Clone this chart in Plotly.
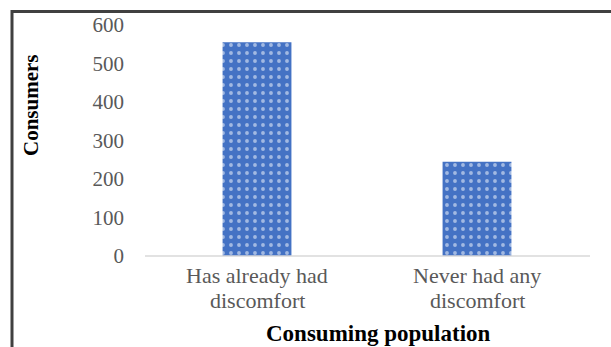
import plotly.graph_objects as go

# Survey data: consumers grouped by whether they have had discomfort
categories = ["Has already had<br>discomfort", "Never had any<br>discomfort"]
consumers = [555, 245]
y_ticks = [0, 100, 200, 300, 400, 500, 600]

W, H = 611, 347
ML, MR, MT, MB = 147, 24, 25, 91
PW = W - ML - MR
PH = H - MT - MB


def px_x(px):
    return (px - ML) / PW


def px_y(py):
    return (H - MB - py) / PH


serif = "Liberation Serif, Times New Roman, serif"
grey = "#595959"

fig = go.Figure(
    go.Bar(
        x=categories,
        y=consumers,
        width=0.313,
        marker=dict(
            color="#4472C4",
            line=dict(width=0),
            pattern=dict(shape=".", fgcolor="white", bgcolor="#4472C4",
                         size=8, solidity=0.18, fillmode="overlay"),
        ),
    )
)

# category labels, one annotation per text line for tighter line spacing
label_annotations = []
for cat in categories:
    for i, line in enumerate(cat.split("<br>")):
        label_annotations.append(
            dict(text=line, xref="x", yref="paper", x=cat,
                 y=px_y(275 + 25 * i), showarrow=False,
                 xanchor="center", yanchor="middle",
                 font=dict(family=serif, size=22, color=grey))
        )

fig.update_layout(
    width=W,
    height=H,
    margin=dict(l=ML, r=MR, t=MT, b=MB),
    paper_bgcolor="white",
    plot_bgcolor="white",
    showlegend=False,
    font=dict(family=serif, color=grey, size=21),
    xaxis=dict(
        showline=False,
        showgrid=False,
        ticks="",
        showticklabels=False,
    ),
    yaxis=dict(
        range=[0, 600],
        tickvals=y_ticks,
        showgrid=False,
        zeroline=False,
        showline=False,
        ticks="",
        tickfont=dict(family=serif, size=21, color=grey),
        ticklabelstandoff=22,
    ),
    shapes=[
        # baseline of the category axis
        dict(type="line", xref="paper", yref="paper",
             x0=px_x(145), x1=px_x(590), y0=0, y1=0,
             line=dict(color="#D9D9D9", width=1.5)),
        # outer frame
        dict(type="rect", xref="paper", yref="paper",
             x0=px_x(12), x1=px_x(700), y0=px_y(420), y1=px_y(11.5),
             line=dict(color="#404040", width=3), fillcolor="rgba(0,0,0,0)"),
    ],
    annotations=label_annotations + [
        dict(text="<b>Consumers</b>", xref="paper", yref="paper",
             x=px_x(31), y=px_y(105), textangle=-90, showarrow=False,
             font=dict(family=serif, size=21, color="black"),
             xanchor="center", yanchor="middle"),
        dict(text="<b>Consuming population</b>", xref="paper", yref="paper",
             x=px_x(378), y=px_y(333), showarrow=False,
             font=dict(family=serif, size=23, color="black"),
             xanchor="center", yanchor="middle"),
    ],
)

fig.write_html("out.html")
